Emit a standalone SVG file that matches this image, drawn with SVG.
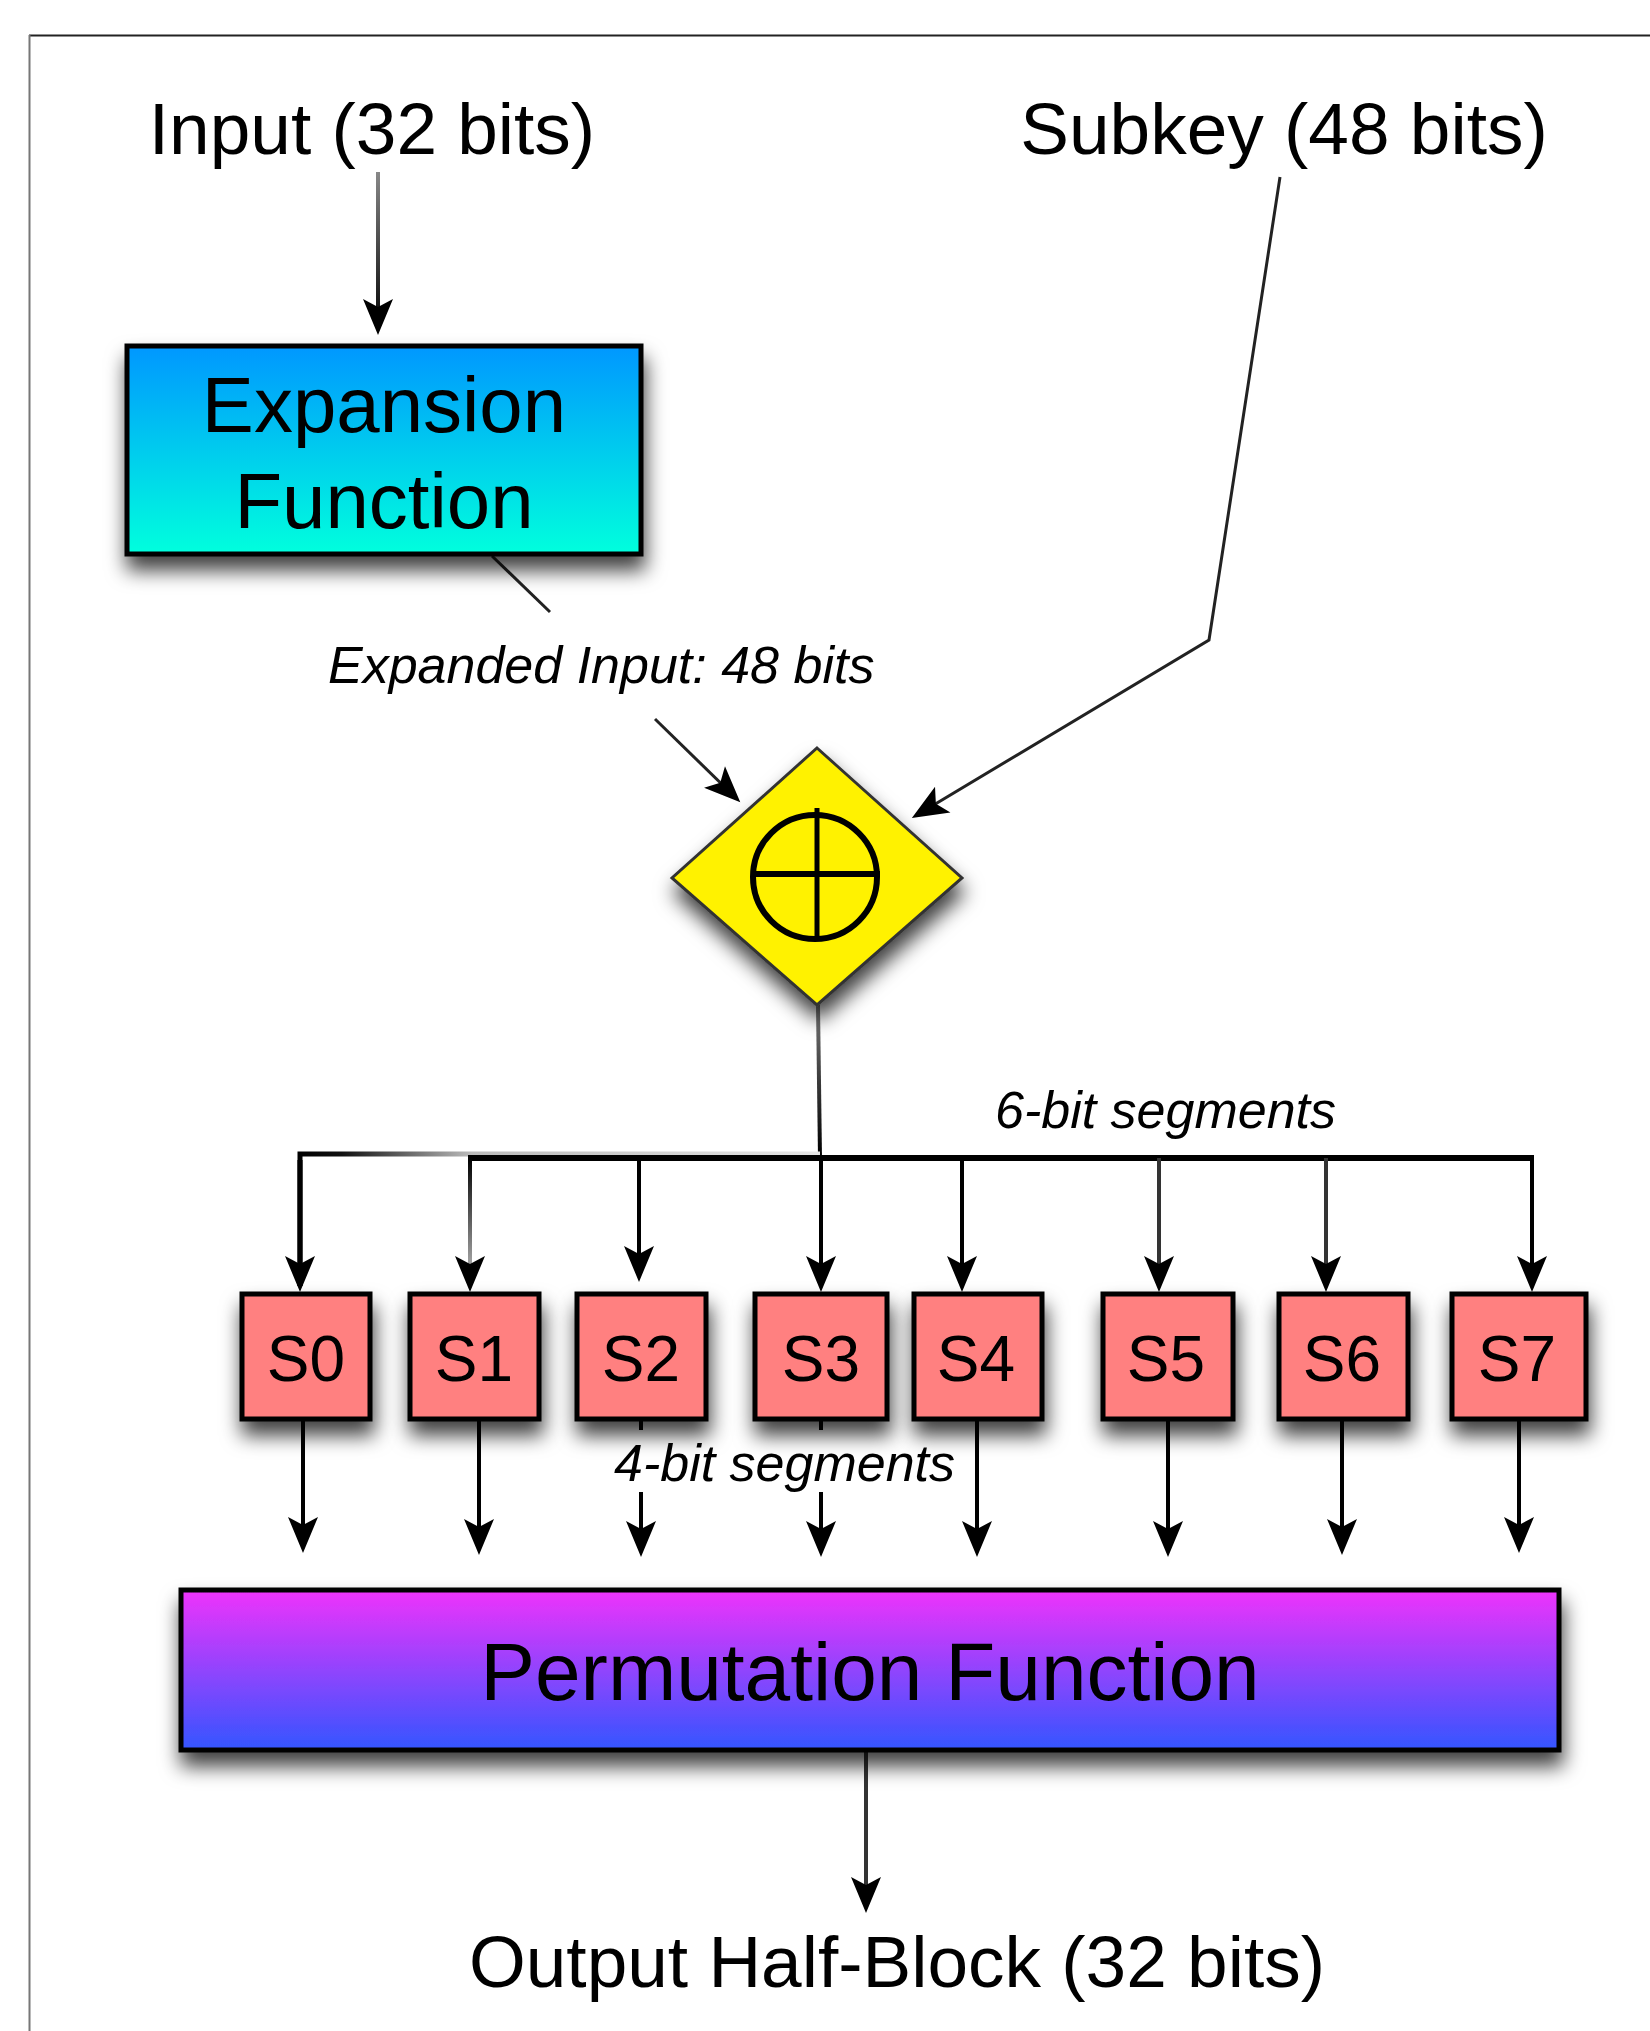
<svg xmlns="http://www.w3.org/2000/svg" width="1650" height="2031" viewBox="0 0 1650 2031">
<defs>
<style>
.lbl{font-family:"Liberation Sans",Arial,Helvetica,sans-serif;fill:#000;}
.big{font-size:73px;}
.it{font-size:52px;font-style:italic;}
.sb{font-size:64px;}
.sbox{fill:#ff8080;stroke:#000;stroke-width:5;filter:url(#sh);}
.ln{fill:none;stroke:#000;stroke-width:4;}
.thin{fill:none;stroke:#222;stroke-width:3;}
.arr{marker-end:url(#ah);}
</style>
<marker id="ah" viewBox="-36 -18 44 36" markerWidth="44" markerHeight="36" refX="0" refY="0" orient="auto" markerUnits="userSpaceOnUse" overflow="visible">
<path d="M6,0 L-30,-15 L-22,0 L-30,15 Z" fill="#000"/>
</marker>
<filter id="sh" x="-20%" y="-20%" width="150%" height="180%">
<feDropShadow dx="2" dy="14" stdDeviation="10" flood-color="#000" flood-opacity="0.75"/>
</filter>
<linearGradient id="gExp" x1="0" y1="0" x2="0" y2="1">
<stop offset="0" stop-color="#0097ff"/>
<stop offset="1" stop-color="#00ffdd"/>
</linearGradient>
<linearGradient id="gPerm" x1="0" y1="0" x2="0" y2="1">
<stop offset="0" stop-color="#ef33fb"/>
<stop offset="1" stop-color="#3355ff"/>
</linearGradient>
<linearGradient id="gIn" gradientUnits="userSpaceOnUse" x1="0" y1="172" x2="0" y2="330">
<stop offset="0" stop-color="#888"/>
<stop offset="1" stop-color="#000"/>
</linearGradient>
<linearGradient id="gMid" gradientUnits="userSpaceOnUse" x1="0" y1="1005" x2="0" y2="1155">
<stop offset="0" stop-color="#777"/>
<stop offset="1" stop-color="#000"/>
</linearGradient>
<linearGradient id="gLeft" gradientUnits="userSpaceOnUse" x1="300" y1="0" x2="820" y2="0">
<stop offset="0" stop-color="#000"/>
<stop offset="0.08" stop-color="#111"/>
<stop offset="0.33" stop-color="#bbb"/>
<stop offset="1" stop-color="#e6e6e6"/>
</linearGradient>
<linearGradient id="gS1" gradientUnits="userSpaceOnUse" x1="0" y1="1158" x2="0" y2="1270">
<stop offset="0" stop-color="#000"/>
<stop offset="1" stop-color="#aaa"/>
</linearGradient>
</defs>
<rect x="0" y="0" width="1650" height="2031" fill="#fff"/>

<g id="frame">
<line x1="29" y1="35.5" x2="1650" y2="35.5" stroke="#222" stroke-width="2"/>
<line x1="29.5" y1="35" x2="29.5" y2="2031" stroke="#777" stroke-width="2"/>
</g>

<g id="connectors">
<line class="ln arr" x1="378" y1="172" x2="378" y2="329" style="stroke:url(#gIn)"/>
<line class="thin" x1="492" y1="556" x2="550" y2="612"/>
<line class="thin arr" x1="655" y1="719" x2="736" y2="798"/>
<polyline class="thin arr" points="1280,177 1209,640 917,815"/>
<line class="ln" x1="818" y1="1005" x2="820" y2="1158" style="stroke:url(#gMid)"/>
<path class="ln arr" d="M820,1154 H300 V1286" style="stroke:url(#gLeft);stroke-width:5"/>
<line x1="300" y1="1160" x2="300" y2="1286" stroke="#000" stroke-width="5"/>
<line class="ln" x1="468" y1="1158" x2="1534" y2="1158" style="stroke-width:6"/>
<line class="ln arr" x1="470" y1="1158" x2="470" y2="1286" style="stroke:url(#gS1)"/>
<line class="ln arr" x1="639" y1="1158" x2="639" y2="1276"/>
<line class="ln arr" x1="821" y1="1155" x2="821" y2="1286"/>
<line class="ln arr" x1="962" y1="1158" x2="962" y2="1286"/>
<line class="ln arr" x1="1159" y1="1158" x2="1159" y2="1286" style="stroke:#333"/>
<line class="ln arr" x1="1326" y1="1158" x2="1326" y2="1286" style="stroke:#333"/>
<line class="ln arr" x1="1532" y1="1158" x2="1532" y2="1286"/>
<line class="ln arr" x1="303" y1="1420" x2="303" y2="1547"/>
<line class="ln arr" x1="479" y1="1420" x2="479" y2="1549"/>
<line class="ln arr" x1="641" y1="1420" x2="641" y2="1551"/>
<line class="ln arr" x1="821" y1="1420" x2="821" y2="1551"/>
<line class="ln arr" x1="977" y1="1420" x2="977" y2="1551"/>
<line class="ln arr" x1="1168" y1="1420" x2="1168" y2="1551"/>
<line class="ln arr" x1="1342" y1="1420" x2="1342" y2="1549"/>
<line class="ln arr" x1="1519" y1="1420" x2="1519" y2="1547"/>
<line class="ln arr" x1="866" y1="1752" x2="866" y2="1907" style="stroke:#333"/>
</g>

<g id="labels">
<text class="lbl big" x="372" y="154" text-anchor="middle">Input (32 bits)</text>
<text class="lbl big" x="1284" y="154" text-anchor="middle">Subkey (48 bits)</text>
<text class="lbl it" x="328" y="683">Expanded Input: 48 bits</text>
<text class="lbl it" x="995" y="1128">6-bit segments</text>
<rect x="612" y="1430" width="348" height="62" fill="#fff"/>
<text class="lbl it" x="614" y="1481">4-bit segments</text>
<text class="lbl big" x="897" y="1987" text-anchor="middle">Output Half-Block (32 bits)</text>
</g>

<g id="expansion">
<rect x="127" y="346" width="514" height="208" fill="url(#gExp)" stroke="#000" stroke-width="5" filter="url(#sh)"/>
<text class="lbl" x="384" y="432" text-anchor="middle" font-size="78">Expansion</text>
<text class="lbl" x="384" y="528" text-anchor="middle" font-size="78">Function</text>
</g>

<g id="xor">
<polygon points="817,748 962,878 817,1005 672,878" fill="#fff200" stroke="#333" stroke-width="3" filter="url(#sh)"/>
<circle cx="815" cy="877" r="62" fill="none" stroke="#000" stroke-width="6"/>
<line x1="817" y1="808" x2="817" y2="940" stroke="#000" stroke-width="5"/>
<line x1="752" y1="874" x2="880" y2="874" stroke="#000" stroke-width="6"/>
</g>

<g id="s0"><rect class="sbox" x="242" y="1294" width="128" height="125"/><text class="lbl sb" x="306" y="1381" text-anchor="middle">S0</text></g>
<g id="s1"><rect class="sbox" x="410" y="1294" width="129" height="125"/><text class="lbl sb" x="474" y="1381" text-anchor="middle">S1</text></g>
<g id="s2"><rect class="sbox" x="577" y="1294" width="129" height="125"/><text class="lbl sb" x="641" y="1381" text-anchor="middle">S2</text></g>
<g id="s3"><rect class="sbox" x="755" y="1294" width="132" height="125"/><text class="lbl sb" x="821" y="1381" text-anchor="middle">S3</text></g>
<g id="s4"><rect class="sbox" x="914" y="1294" width="128" height="125"/><text class="lbl sb" x="976" y="1381" text-anchor="middle">S4</text></g>
<g id="s5"><rect class="sbox" x="1103" y="1294" width="130" height="125"/><text class="lbl sb" x="1166" y="1381" text-anchor="middle">S5</text></g>
<g id="s6"><rect class="sbox" x="1279" y="1294" width="129" height="125"/><text class="lbl sb" x="1342" y="1381" text-anchor="middle">S6</text></g>
<g id="s7"><rect class="sbox" x="1452" y="1294" width="134" height="125"/><text class="lbl sb" x="1517" y="1381" text-anchor="middle">S7</text></g>

<g id="permutation">
<rect x="181" y="1590" width="1378" height="160" fill="url(#gPerm)" stroke="#000" stroke-width="5" filter="url(#sh)"/>
<text class="lbl" x="870" y="1700" text-anchor="middle" font-size="82">Permutation Function</text>
</g>
</svg>
